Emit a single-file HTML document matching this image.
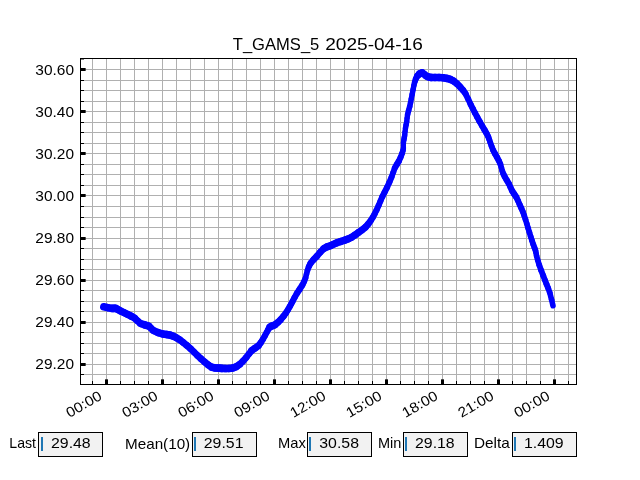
<!DOCTYPE html>
<html><head><meta charset="utf-8"><title>T_GAMS_5 2025-04-16</title>
<style>html,body{margin:0;padding:0;background:#fff;}svg{display:block;will-change:transform;}text{font-family:"Liberation Sans",sans-serif;fill:#000;}</style>
</head><body>
<svg width="640" height="480" viewBox="0 0 640 480">
<rect x="0" y="0" width="640" height="480" fill="#ffffff"/>
<g shape-rendering="crispEdges">
<rect x="92" y="59" width="1" height="325" fill="#b0b0b0"/>
<rect x="106" y="59" width="1" height="325" fill="#b0b0b0"/>
<rect x="120" y="59" width="1" height="325" fill="#b0b0b0"/>
<rect x="134" y="59" width="1" height="325" fill="#b0b0b0"/>
<rect x="148" y="59" width="1" height="325" fill="#b0b0b0"/>
<rect x="162" y="59" width="1" height="325" fill="#b0b0b0"/>
<rect x="176" y="59" width="1" height="325" fill="#b0b0b0"/>
<rect x="190" y="59" width="1" height="325" fill="#b0b0b0"/>
<rect x="204" y="59" width="1" height="325" fill="#b0b0b0"/>
<rect x="218" y="59" width="1" height="325" fill="#b0b0b0"/>
<rect x="232" y="59" width="1" height="325" fill="#b0b0b0"/>
<rect x="246" y="59" width="1" height="325" fill="#b0b0b0"/>
<rect x="260" y="59" width="1" height="325" fill="#b0b0b0"/>
<rect x="274" y="59" width="1" height="325" fill="#b0b0b0"/>
<rect x="288" y="59" width="1" height="325" fill="#b0b0b0"/>
<rect x="302" y="59" width="1" height="325" fill="#b0b0b0"/>
<rect x="316" y="59" width="1" height="325" fill="#b0b0b0"/>
<rect x="330" y="59" width="1" height="325" fill="#b0b0b0"/>
<rect x="344" y="59" width="1" height="325" fill="#b0b0b0"/>
<rect x="358" y="59" width="1" height="325" fill="#b0b0b0"/>
<rect x="372" y="59" width="1" height="325" fill="#b0b0b0"/>
<rect x="386" y="59" width="1" height="325" fill="#b0b0b0"/>
<rect x="400" y="59" width="1" height="325" fill="#b0b0b0"/>
<rect x="414" y="59" width="1" height="325" fill="#b0b0b0"/>
<rect x="428" y="59" width="1" height="325" fill="#b0b0b0"/>
<rect x="442" y="59" width="1" height="325" fill="#b0b0b0"/>
<rect x="456" y="59" width="1" height="325" fill="#b0b0b0"/>
<rect x="470" y="59" width="1" height="325" fill="#b0b0b0"/>
<rect x="484" y="59" width="1" height="325" fill="#b0b0b0"/>
<rect x="498" y="59" width="1" height="325" fill="#b0b0b0"/>
<rect x="512" y="59" width="1" height="325" fill="#b0b0b0"/>
<rect x="526" y="59" width="1" height="325" fill="#b0b0b0"/>
<rect x="540" y="59" width="1" height="325" fill="#b0b0b0"/>
<rect x="554" y="59" width="1" height="325" fill="#b0b0b0"/>
<rect x="568" y="59" width="1" height="325" fill="#b0b0b0"/>
<rect x="81" y="69" width="495" height="1" fill="#b0b0b0"/>
<rect x="81" y="80" width="495" height="1" fill="#b0b0b0"/>
<rect x="81" y="90" width="495" height="1" fill="#b0b0b0"/>
<rect x="81" y="101" width="495" height="1" fill="#b0b0b0"/>
<rect x="81" y="111" width="495" height="1" fill="#b0b0b0"/>
<rect x="81" y="122" width="495" height="1" fill="#b0b0b0"/>
<rect x="81" y="132" width="495" height="1" fill="#b0b0b0"/>
<rect x="81" y="143" width="495" height="1" fill="#b0b0b0"/>
<rect x="81" y="153" width="495" height="1" fill="#b0b0b0"/>
<rect x="81" y="164" width="495" height="1" fill="#b0b0b0"/>
<rect x="81" y="174" width="495" height="1" fill="#b0b0b0"/>
<rect x="81" y="185" width="495" height="1" fill="#b0b0b0"/>
<rect x="81" y="195" width="495" height="1" fill="#b0b0b0"/>
<rect x="81" y="206" width="495" height="1" fill="#b0b0b0"/>
<rect x="81" y="217" width="495" height="1" fill="#b0b0b0"/>
<rect x="81" y="227" width="495" height="1" fill="#b0b0b0"/>
<rect x="81" y="238" width="495" height="1" fill="#b0b0b0"/>
<rect x="81" y="248" width="495" height="1" fill="#b0b0b0"/>
<rect x="81" y="259" width="495" height="1" fill="#b0b0b0"/>
<rect x="81" y="269" width="495" height="1" fill="#b0b0b0"/>
<rect x="81" y="280" width="495" height="1" fill="#b0b0b0"/>
<rect x="81" y="290" width="495" height="1" fill="#b0b0b0"/>
<rect x="81" y="301" width="495" height="1" fill="#b0b0b0"/>
<rect x="81" y="311" width="495" height="1" fill="#b0b0b0"/>
<rect x="81" y="322" width="495" height="1" fill="#b0b0b0"/>
<rect x="81" y="332" width="495" height="1" fill="#b0b0b0"/>
<rect x="81" y="343" width="495" height="1" fill="#b0b0b0"/>
<rect x="81" y="353" width="495" height="1" fill="#b0b0b0"/>
<rect x="81" y="364" width="495" height="1" fill="#b0b0b0"/>
<rect x="81" y="374" width="495" height="1" fill="#b0b0b0"/>
</g>
<g fill="none" stroke="#0000ff" stroke-linecap="round">
<path d="M103.80,306.80L107.51,307.60" stroke-width="7.53"/>
<path d="M107.51,307.60L111.70,308.40" stroke-width="7.55"/>
<path d="M111.70,308.40L113.83,308.34" stroke-width="7.60"/>
<path d="M113.83,308.34L115.60,308.40" stroke-width="7.60"/>
<path d="M115.60,308.40L117.92,309.49" stroke-width="7.32"/>
<path d="M117.92,309.49L120.60,311.00" stroke-width="7.22"/>
<path d="M120.60,311.00L123.86,312.57" stroke-width="7.31"/>
<path d="M123.86,312.57L127.40,314.30" stroke-width="7.30"/>
<path d="M127.40,314.30L131.11,316.13" stroke-width="7.29"/>
<path d="M131.11,316.13L134.70,318.20" stroke-width="7.20"/>
<path d="M134.70,318.20L137.60,320.93" stroke-width="6.81"/>
<path d="M137.60,320.93L140.60,323.50" stroke-width="6.90"/>
<path d="M140.60,323.50L144.71,324.84" stroke-width="7.45"/>
<path d="M144.71,324.84L148.70,326.10" stroke-width="7.46"/>
<path d="M148.70,326.10L151.13,328.36" stroke-width="6.82"/>
<path d="M151.13,328.36L153.70,330.70" stroke-width="6.84"/>
<path d="M153.70,330.70L158.17,332.57" stroke-width="7.37"/>
<path d="M158.17,332.57L162.90,334.00" stroke-width="7.47"/>
<path d="M162.90,334.00L166.57,334.59" stroke-width="7.56"/>
<path d="M166.57,334.59L169.90,335.10" stroke-width="7.57"/>
<path d="M169.90,335.10L173.17,336.18" stroke-width="7.45"/>
<path d="M173.17,336.18L176.40,337.70" stroke-width="7.32"/>
<path d="M176.40,337.70L179.63,339.76" stroke-width="7.14"/>
<path d="M179.63,339.76L183.00,342.30" stroke-width="7.01"/>
<path d="M183.00,342.30L186.79,345.43" stroke-width="6.93"/>
<path d="M186.79,345.43L190.60,348.80" stroke-width="6.87"/>
<path d="M190.60,348.80L194.02,352.09" stroke-width="6.79"/>
<path d="M194.02,352.09L197.40,355.40" stroke-width="6.77"/>
<path d="M197.40,355.40L201.03,358.79" stroke-width="6.82"/>
<path d="M201.03,358.79L204.70,362.00" stroke-width="6.88"/>
<path d="M204.70,362.00L208.33,364.96" stroke-width="6.94"/>
<path d="M208.33,364.96L211.90,367.20" stroke-width="7.15"/>
<path d="M211.90,367.20L215.36,367.95" stroke-width="7.53"/>
<path d="M215.36,367.95L218.70,368.10" stroke-width="7.60"/>
<path d="M218.70,368.10L221.78,368.39" stroke-width="7.59"/>
<path d="M221.78,368.39L225.00,368.50" stroke-width="7.60"/>
<path d="M225.00,368.50L228.94,368.43" stroke-width="7.60"/>
<path d="M228.94,368.43L232.90,367.90" stroke-width="7.57"/>
<path d="M232.90,367.90L236.22,366.66" stroke-width="7.41"/>
<path d="M236.22,366.66L239.40,364.60" stroke-width="7.13"/>
<path d="M239.40,364.60L242.86,361.28" stroke-width="6.79"/>
<path d="M242.86,361.28L246.20,357.50" stroke-width="6.62"/>
<path d="M246.20,357.50L248.97,353.84" stroke-width="6.46"/>
<path d="M248.97,353.84L251.70,350.50" stroke-width="6.54"/>
<path d="M251.70,350.50L255.03,348.17" stroke-width="7.07"/>
<path d="M255.03,348.17L258.25,345.90" stroke-width="7.06"/>
<path d="M258.25,345.90L260.68,342.81" stroke-width="6.51"/>
<path d="M260.68,342.81L262.80,339.40" stroke-width="6.26"/>
<path d="M262.80,339.40L264.88,335.72" stroke-width="6.17"/>
<path d="M264.88,335.72L266.80,332.20" stroke-width="6.13"/>
<path d="M266.80,332.20L268.36,329.22" stroke-width="6.09"/>
<path d="M268.36,329.22L270.00,326.90" stroke-width="6.39"/>
<path d="M270.00,326.90L272.18,325.89" stroke-width="7.33"/>
<path d="M272.18,325.89L274.70,324.90" stroke-width="7.39"/>
<path d="M274.70,324.90L277.62,322.59" stroke-width="6.97"/>
<path d="M277.62,322.59L280.60,319.70" stroke-width="6.78"/>
<path d="M280.60,319.70L283.32,316.48" stroke-width="6.58"/>
<path d="M283.32,316.48L285.80,313.10" stroke-width="6.43"/>
<path d="M285.80,313.10L287.93,309.76" stroke-width="6.29"/>
<path d="M287.93,309.76L289.75,306.60" stroke-width="6.19"/>
<path d="M289.75,306.60L291.09,304.16" stroke-width="6.14"/>
<path d="M291.09,304.16L292.50,301.50" stroke-width="6.10"/>
<path d="M292.50,301.50L294.60,297.52" stroke-width="6.10"/>
<path d="M294.60,297.52L297.00,293.20" stroke-width="6.15"/>
<path d="M297.00,293.20L299.67,289.18" stroke-width="6.33"/>
<path d="M299.67,289.18L302.20,285.30" stroke-width="6.31"/>
<path d="M302.20,285.30L304.05,281.70" stroke-width="6.08"/>
<path d="M304.05,281.70L305.50,278.10" stroke-width="5.87"/>
<path d="M305.50,278.10L306.50,274.15" stroke-width="5.56"/>
<path d="M306.50,274.15L307.50,270.20" stroke-width="5.56"/>
<path d="M307.50,270.20L308.88,266.52" stroke-width="5.81"/>
<path d="M308.88,266.52L310.75,263.00" stroke-width="6.11"/>
<path d="M310.75,263.00L313.48,259.74" stroke-width="6.57"/>
<path d="M313.48,259.74L316.70,256.40" stroke-width="6.71"/>
<path d="M316.70,256.40L320.27,252.21" stroke-width="6.59"/>
<path d="M320.27,252.21L323.90,248.50" stroke-width="6.73"/>
<path d="M323.90,248.50L327.20,246.79" stroke-width="7.27"/>
<path d="M327.20,246.79L330.40,245.70" stroke-width="7.44"/>
<path d="M330.40,245.70L333.52,244.24" stroke-width="7.32"/>
<path d="M333.52,244.24L336.80,242.80" stroke-width="7.35"/>
<path d="M336.80,242.80L340.69,241.49" stroke-width="7.44"/>
<path d="M340.69,241.49L344.60,240.20" stroke-width="7.45"/>
<path d="M344.60,240.20L347.93,239.01" stroke-width="7.42"/>
<path d="M347.93,239.01L351.20,237.50" stroke-width="7.33"/>
<path d="M351.20,237.50L354.89,235.11" stroke-width="7.12"/>
<path d="M354.89,235.11L358.60,232.40" stroke-width="7.04"/>
<path d="M358.60,232.40L362.13,229.89" stroke-width="7.06"/>
<path d="M362.13,229.89L365.40,227.20" stroke-width="6.93"/>
<path d="M365.40,227.20L368.23,223.99" stroke-width="6.62"/>
<path d="M368.23,223.99L370.70,220.60" stroke-width="6.42"/>
<path d="M370.70,220.60L372.73,217.42" stroke-width="6.29"/>
<path d="M372.73,217.42L374.60,214.00" stroke-width="6.14"/>
<path d="M374.60,214.00L376.61,209.90" stroke-width="6.03"/>
<path d="M376.61,209.90L378.60,205.50" stroke-width="5.96"/>
<path d="M378.60,205.50L380.46,201.03" stroke-width="5.89"/>
<path d="M380.46,201.03L382.40,196.50" stroke-width="5.92"/>
<path d="M382.40,196.50L384.65,192.09" stroke-width="6.07"/>
<path d="M384.65,192.09L387.00,187.50" stroke-width="6.07"/>
<path d="M387.00,187.50L389.38,182.26" stroke-width="5.97"/>
<path d="M389.38,182.26L391.60,177.00" stroke-width="5.90"/>
<path d="M391.60,177.00L393.29,172.15" stroke-width="5.76"/>
<path d="M393.29,172.15L394.90,167.80" stroke-width="5.80"/>
<path d="M394.90,167.80L396.85,164.44" stroke-width="6.19"/>
<path d="M396.85,164.44L398.80,161.25" stroke-width="6.24"/>
<path d="M398.80,161.25L400.61,157.25" stroke-width="5.96"/>
<path d="M400.61,157.25L402.10,153.40" stroke-width="5.84"/>
<path d="M402.10,153.40L402.96,150.58" stroke-width="5.67"/>
<path d="M402.96,150.58L403.40,148.10" stroke-width="5.41"/>
<path d="M403.40,148.10L403.42,145.50" stroke-width="5.11"/>
<path d="M403.42,145.50L403.40,142.90" stroke-width="5.11"/>
<path d="M403.40,142.90L403.82,140.09" stroke-width="5.36"/>
<path d="M403.82,140.09L404.30,137.60" stroke-width="5.44"/>
<path d="M404.30,137.60L404.51,136.41" stroke-width="5.40"/>
<path d="M404.51,136.41L404.70,135.00" stroke-width="5.33"/>
<path d="M404.70,135.00L405.05,131.73" stroke-width="5.27"/>
<path d="M405.05,131.73L405.50,128.00" stroke-width="5.30"/>
<path d="M405.50,128.00L406.09,124.86" stroke-width="5.43"/>
<path d="M406.09,124.86L406.70,121.70" stroke-width="5.44"/>
<path d="M406.70,121.70L407.09,118.20" stroke-width="5.28"/>
<path d="M407.09,118.20L407.60,114.50" stroke-width="5.33"/>
<path d="M407.60,114.50L408.61,110.59" stroke-width="5.57"/>
<path d="M408.61,110.59L409.70,106.60" stroke-width="5.61"/>
<path d="M409.70,106.60L410.52,102.75" stroke-width="5.48"/>
<path d="M410.52,102.75L411.30,98.75" stroke-width="5.44"/>
<path d="M411.30,98.75L412.19,94.18" stroke-width="5.44"/>
<path d="M412.19,94.18L413.10,89.60" stroke-width="5.45"/>
<path d="M413.10,89.60L413.89,85.45" stroke-width="5.44"/>
<path d="M413.89,85.45L414.80,81.70" stroke-width="5.54"/>
<path d="M414.80,81.70L415.97,78.44" stroke-width="5.78"/>
<path d="M415.97,78.44L417.50,75.80" stroke-width="6.19"/>
<path d="M417.50,75.80L419.72,73.74" stroke-width="6.83"/>
<path d="M419.72,73.74L422.10,72.80" stroke-width="7.39"/>
<path d="M422.10,72.80L424.01,74.01" stroke-width="7.14"/>
<path d="M424.01,74.01L426.00,75.80" stroke-width="6.85"/>
<path d="M426.00,75.80L428.38,76.84" stroke-width="7.35"/>
<path d="M428.38,76.84L431.25,77.50" stroke-width="7.52"/>
<path d="M431.25,77.50L435.01,77.55" stroke-width="7.60"/>
<path d="M435.01,77.55L439.10,77.50" stroke-width="7.60"/>
<path d="M439.10,77.50L443.13,77.79" stroke-width="7.59"/>
<path d="M443.13,77.79L447.00,78.40" stroke-width="7.56"/>
<path d="M447.00,78.40L450.39,79.39" stroke-width="7.48"/>
<path d="M450.39,79.39L453.60,81.00" stroke-width="7.28"/>
<path d="M453.60,81.00L456.93,83.70" stroke-width="6.95"/>
<path d="M456.93,83.70L460.10,86.90" stroke-width="6.74"/>
<path d="M460.10,86.90L462.83,89.89" stroke-width="6.66"/>
<path d="M462.83,89.89L465.40,93.50" stroke-width="6.40"/>
<path d="M465.40,93.50L468.06,98.78" stroke-width="6.06"/>
<path d="M468.06,98.78L470.60,104.30" stroke-width="5.98"/>
<path d="M470.60,104.30L472.79,108.69" stroke-width="6.05"/>
<path d="M472.79,108.69L474.90,112.80" stroke-width="6.08"/>
<path d="M474.90,112.80L477.16,117.04" stroke-width="6.11"/>
<path d="M477.16,117.04L479.50,121.30" stroke-width="6.14"/>
<path d="M479.50,121.30L482.06,125.73" stroke-width="6.19"/>
<path d="M482.06,125.73L484.50,129.90" stroke-width="6.20"/>
<path d="M484.50,129.90L486.47,133.30" stroke-width="6.19"/>
<path d="M486.47,133.30L488.10,136.40" stroke-width="6.10"/>
<path d="M488.10,136.40L489.25,139.44" stroke-width="5.82"/>
<path d="M489.25,139.44L490.30,142.60" stroke-width="5.73"/>
<path d="M490.30,142.60L491.59,146.29" stroke-width="5.76"/>
<path d="M491.59,146.29L493.10,150.10" stroke-width="5.85"/>
<path d="M493.10,150.10L495.02,153.76" stroke-width="6.10"/>
<path d="M495.02,153.76L497.00,157.30" stroke-width="6.16"/>
<path d="M497.00,157.30L498.77,160.60" stroke-width="6.12"/>
<path d="M498.77,160.60L500.30,163.90" stroke-width="5.99"/>
<path d="M500.30,163.90L501.34,167.54" stroke-width="5.63"/>
<path d="M501.34,167.54L502.30,171.10" stroke-width="5.60"/>
<path d="M502.30,171.10L503.48,174.09" stroke-width="5.85"/>
<path d="M503.48,174.09L504.90,177.00" stroke-width="6.03"/>
<path d="M504.90,177.00L506.81,180.22" stroke-width="6.21"/>
<path d="M506.81,180.22L508.80,183.60" stroke-width="6.21"/>
<path d="M508.80,183.60L510.44,187.23" stroke-width="5.96"/>
<path d="M510.44,187.23L512.10,190.80" stroke-width="5.99"/>
<path d="M512.10,190.80L514.14,193.89" stroke-width="6.33"/>
<path d="M514.14,193.89L516.20,197.00" stroke-width="6.32"/>
<path d="M516.20,197.00L517.96,200.63" stroke-width="6.02"/>
<path d="M517.96,200.63L519.60,204.40" stroke-width="5.93"/>
<path d="M519.60,204.40L521.24,208.02" stroke-width="5.97"/>
<path d="M521.24,208.02L522.80,211.70" stroke-width="5.91"/>
<path d="M522.80,211.70L524.19,215.52" stroke-width="5.79"/>
<path d="M524.19,215.52L525.50,219.50" stroke-width="5.72"/>
<path d="M525.50,219.50L526.81,223.76" stroke-width="5.67"/>
<path d="M526.81,223.76L528.10,228.10" stroke-width="5.66"/>
<path d="M528.10,228.10L529.40,232.39" stroke-width="5.67"/>
<path d="M529.40,232.39L530.70,236.60" stroke-width="5.68"/>
<path d="M530.70,236.60L532.02,240.71" stroke-width="5.71"/>
<path d="M532.02,240.71L533.30,244.50" stroke-width="5.73"/>
<path d="M533.30,244.50L534.49,247.66" stroke-width="5.82"/>
<path d="M534.49,247.66L535.50,250.50" stroke-width="5.77"/>
<path d="M535.50,250.50L536.02,253.00" stroke-width="5.47"/>
<path d="M536.02,253.00L536.60,255.90" stroke-width="5.45"/>
<path d="M536.60,255.90L537.75,260.18" stroke-width="5.59"/>
<path d="M537.75,260.18L539.25,265.10" stroke-width="5.67"/>
<path d="M539.25,265.10L541.18,270.39" stroke-width="5.79"/>
<path d="M541.18,270.39L543.20,275.60" stroke-width="5.84"/>
<path d="M543.20,275.60L544.89,279.98" stroke-width="5.84"/>
<path d="M544.89,279.98L546.50,284.10" stroke-width="5.84"/>
<path d="M546.50,284.10L548.13,288.06" stroke-width="5.88"/>
<path d="M548.13,288.06L549.75,292.60" stroke-width="5.78"/>
<path d="M549.75,292.60L551.58,299.71" stroke-width="5.57"/>
<path d="M551.58,299.71L553.00,305.75" stroke-width="5.53"/>
</g>
<g shape-rendering="crispEdges" fill="#000">
<rect x="81" y="68" width="4" height="3"/>
<rect x="85" y="68" width="1" height="3" opacity="0.65"/>
<rect x="81" y="80" width="3" height="1"/>
<rect x="81" y="90" width="3" height="1"/>
<rect x="81" y="101" width="3" height="1"/>
<rect x="81" y="110" width="4" height="3"/>
<rect x="85" y="110" width="1" height="3" opacity="0.65"/>
<rect x="81" y="122" width="3" height="1"/>
<rect x="81" y="132" width="3" height="1"/>
<rect x="81" y="143" width="3" height="1"/>
<rect x="81" y="152" width="4" height="3"/>
<rect x="85" y="152" width="1" height="3" opacity="0.65"/>
<rect x="81" y="164" width="3" height="1"/>
<rect x="81" y="174" width="3" height="1"/>
<rect x="81" y="185" width="3" height="1"/>
<rect x="81" y="194" width="4" height="3"/>
<rect x="85" y="194" width="1" height="3" opacity="0.65"/>
<rect x="81" y="206" width="3" height="1"/>
<rect x="81" y="217" width="3" height="1"/>
<rect x="81" y="227" width="3" height="1"/>
<rect x="81" y="237" width="4" height="3"/>
<rect x="85" y="237" width="1" height="3" opacity="0.65"/>
<rect x="81" y="248" width="3" height="1"/>
<rect x="81" y="259" width="3" height="1"/>
<rect x="81" y="269" width="3" height="1"/>
<rect x="81" y="279" width="4" height="3"/>
<rect x="85" y="279" width="1" height="3" opacity="0.65"/>
<rect x="81" y="290" width="3" height="1"/>
<rect x="81" y="301" width="3" height="1"/>
<rect x="81" y="311" width="3" height="1"/>
<rect x="81" y="321" width="4" height="3"/>
<rect x="85" y="321" width="1" height="3" opacity="0.65"/>
<rect x="81" y="332" width="3" height="1"/>
<rect x="81" y="343" width="3" height="1"/>
<rect x="81" y="353" width="3" height="1"/>
<rect x="81" y="363" width="4" height="3"/>
<rect x="85" y="363" width="1" height="3" opacity="0.65"/>
<rect x="81" y="374" width="3" height="1"/>
<rect x="92" y="381" width="1" height="3"/>
<rect x="105" y="380" width="3" height="4"/>
<rect x="105" y="379" width="3" height="1" opacity="0.65"/>
<rect x="120" y="381" width="1" height="3"/>
<rect x="134" y="381" width="1" height="3"/>
<rect x="148" y="381" width="1" height="3"/>
<rect x="161" y="380" width="3" height="4"/>
<rect x="161" y="379" width="3" height="1" opacity="0.65"/>
<rect x="176" y="381" width="1" height="3"/>
<rect x="190" y="381" width="1" height="3"/>
<rect x="204" y="381" width="1" height="3"/>
<rect x="217" y="380" width="3" height="4"/>
<rect x="217" y="379" width="3" height="1" opacity="0.65"/>
<rect x="232" y="381" width="1" height="3"/>
<rect x="246" y="381" width="1" height="3"/>
<rect x="260" y="381" width="1" height="3"/>
<rect x="273" y="380" width="3" height="4"/>
<rect x="273" y="379" width="3" height="1" opacity="0.65"/>
<rect x="288" y="381" width="1" height="3"/>
<rect x="302" y="381" width="1" height="3"/>
<rect x="316" y="381" width="1" height="3"/>
<rect x="329" y="380" width="3" height="4"/>
<rect x="329" y="379" width="3" height="1" opacity="0.65"/>
<rect x="344" y="381" width="1" height="3"/>
<rect x="358" y="381" width="1" height="3"/>
<rect x="372" y="381" width="1" height="3"/>
<rect x="385" y="380" width="3" height="4"/>
<rect x="385" y="379" width="3" height="1" opacity="0.65"/>
<rect x="400" y="381" width="1" height="3"/>
<rect x="414" y="381" width="1" height="3"/>
<rect x="428" y="381" width="1" height="3"/>
<rect x="441" y="380" width="3" height="4"/>
<rect x="441" y="379" width="3" height="1" opacity="0.65"/>
<rect x="456" y="381" width="1" height="3"/>
<rect x="470" y="381" width="1" height="3"/>
<rect x="484" y="381" width="1" height="3"/>
<rect x="497" y="380" width="3" height="4"/>
<rect x="497" y="379" width="3" height="1" opacity="0.65"/>
<rect x="512" y="381" width="1" height="3"/>
<rect x="526" y="381" width="1" height="3"/>
<rect x="540" y="381" width="1" height="3"/>
<rect x="553" y="380" width="3" height="4"/>
<rect x="553" y="379" width="3" height="1" opacity="0.65"/>
<rect x="568" y="381" width="1" height="3"/>
<rect x="81" y="59" width="3" height="1" opacity="0.5"/>
<rect x="80" y="58" width="497" height="1"/>
<rect x="80" y="384" width="497" height="1"/>
<rect x="80" y="58" width="1" height="327"/>
<rect x="576" y="58" width="1" height="327"/>
</g>
<text x="232.8" y="50" font-size="17" textLength="86.5" lengthAdjust="spacingAndGlyphs">T_GAMS_5</text>
<text x="325.2" y="50" font-size="17" textLength="97.6" lengthAdjust="spacingAndGlyphs">2025-04-16</text>
<text x="74" y="74.6" font-size="14.1" text-anchor="end" textLength="38.7" lengthAdjust="spacingAndGlyphs">30.60</text>
<text x="74" y="116.6" font-size="14.1" text-anchor="end" textLength="38.7" lengthAdjust="spacingAndGlyphs">30.40</text>
<text x="74" y="158.6" font-size="14.1" text-anchor="end" textLength="38.7" lengthAdjust="spacingAndGlyphs">30.20</text>
<text x="74" y="200.6" font-size="14.1" text-anchor="end" textLength="38.7" lengthAdjust="spacingAndGlyphs">30.00</text>
<text x="74" y="242.6" font-size="14.1" text-anchor="end" textLength="38.7" lengthAdjust="spacingAndGlyphs">29.80</text>
<text x="74" y="284.6" font-size="14.1" text-anchor="end" textLength="38.7" lengthAdjust="spacingAndGlyphs">29.60</text>
<text x="74" y="326.6" font-size="14.1" text-anchor="end" textLength="38.7" lengthAdjust="spacingAndGlyphs">29.40</text>
<text x="74" y="368.6" font-size="14.1" text-anchor="end" textLength="38.7" lengthAdjust="spacingAndGlyphs">29.20</text>
<text transform="translate(102.80,398.7) rotate(-30)" font-size="14.2" text-anchor="end" textLength="38.4" lengthAdjust="spacingAndGlyphs">00:00</text>
<text transform="translate(158.80,398.7) rotate(-30)" font-size="14.2" text-anchor="end" textLength="38.4" lengthAdjust="spacingAndGlyphs">03:00</text>
<text transform="translate(214.80,398.7) rotate(-30)" font-size="14.2" text-anchor="end" textLength="38.4" lengthAdjust="spacingAndGlyphs">06:00</text>
<text transform="translate(270.80,398.7) rotate(-30)" font-size="14.2" text-anchor="end" textLength="38.4" lengthAdjust="spacingAndGlyphs">09:00</text>
<text transform="translate(326.80,398.7) rotate(-30)" font-size="14.2" text-anchor="end" textLength="38.4" lengthAdjust="spacingAndGlyphs">12:00</text>
<text transform="translate(382.80,398.7) rotate(-30)" font-size="14.2" text-anchor="end" textLength="38.4" lengthAdjust="spacingAndGlyphs">15:00</text>
<text transform="translate(438.80,398.7) rotate(-30)" font-size="14.2" text-anchor="end" textLength="38.4" lengthAdjust="spacingAndGlyphs">18:00</text>
<text transform="translate(494.80,398.7) rotate(-30)" font-size="14.2" text-anchor="end" textLength="38.4" lengthAdjust="spacingAndGlyphs">21:00</text>
<text transform="translate(550.80,398.7) rotate(-30)" font-size="14.2" text-anchor="end" textLength="38.4" lengthAdjust="spacingAndGlyphs">00:00</text>
<rect x="38.5" y="432.5" width="64" height="24" fill="#f2f2f2" stroke="#000" stroke-width="1" shape-rendering="crispEdges"/>
<rect x="41" y="437" width="2" height="14" fill="#1f77b4" shape-rendering="crispEdges"/>
<text x="9.3" y="447.9" font-size="14.1" textLength="26.7" lengthAdjust="spacingAndGlyphs">Last</text>
<text x="51.0" y="447.9" font-size="14.1" textLength="39.7" lengthAdjust="spacingAndGlyphs">29.48</text>
<rect x="192.5" y="432.5" width="64" height="24" fill="#f2f2f2" stroke="#000" stroke-width="1" shape-rendering="crispEdges"/>
<rect x="194" y="437" width="2" height="14" fill="#1f77b4" shape-rendering="crispEdges"/>
<text x="125.0" y="449.2" font-size="14.1" textLength="65.2" lengthAdjust="spacingAndGlyphs">Mean(10)</text>
<text x="203.8" y="447.9" font-size="14.1" textLength="39.7" lengthAdjust="spacingAndGlyphs">29.51</text>
<rect x="307.5" y="432.5" width="64" height="24" fill="#f2f2f2" stroke="#000" stroke-width="1" shape-rendering="crispEdges"/>
<rect x="309" y="437" width="2" height="14" fill="#1f77b4" shape-rendering="crispEdges"/>
<text x="278.0" y="447.9" font-size="14.1" textLength="27.8" lengthAdjust="spacingAndGlyphs">Max</text>
<text x="319.3" y="447.9" font-size="14.1" textLength="39.7" lengthAdjust="spacingAndGlyphs">30.58</text>
<rect x="403.5" y="432.5" width="64" height="24" fill="#f2f2f2" stroke="#000" stroke-width="1" shape-rendering="crispEdges"/>
<rect x="405" y="437" width="2" height="14" fill="#1f77b4" shape-rendering="crispEdges"/>
<text x="378.0" y="447.9" font-size="14.1" textLength="23.4" lengthAdjust="spacingAndGlyphs">Min</text>
<text x="415.0" y="447.9" font-size="14.1" textLength="39.7" lengthAdjust="spacingAndGlyphs">29.18</text>
<rect x="512.5" y="432.5" width="64" height="24" fill="#f2f2f2" stroke="#000" stroke-width="1" shape-rendering="crispEdges"/>
<rect x="514" y="437" width="2" height="14" fill="#1f77b4" shape-rendering="crispEdges"/>
<text x="474.0" y="447.9" font-size="14.1" textLength="35.8" lengthAdjust="spacingAndGlyphs">Delta</text>
<text x="524.0" y="447.9" font-size="14.1" textLength="39.7" lengthAdjust="spacingAndGlyphs">1.409</text>
</svg>
</body></html>
